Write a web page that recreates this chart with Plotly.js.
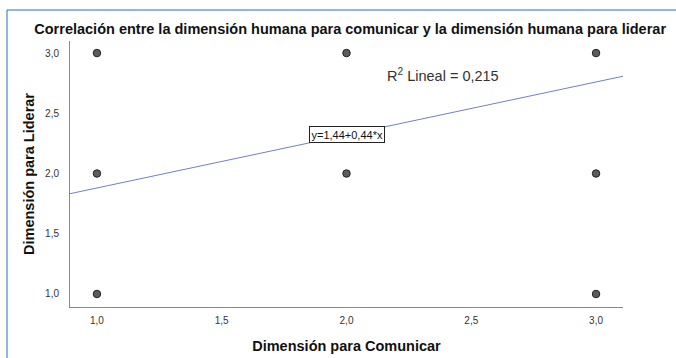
<!DOCTYPE html>
<html><head><meta charset="utf-8">
<script src="https://cdn.plot.ly/plotly-3.0.1.min.js"></script>
<style>html,body{margin:0;padding:0;background:#fff;}#c{width:676px;height:358px;}</style>
</head><body><div id="c"></div>
<script>
const comunicar = [1, 1, 1, 2, 2, 3, 3, 3];
const liderar   = [3, 2, 1, 3, 2, 3, 2, 1];
const intercept = 1.44;
const slope = 0.44;
const r2Text = "R<sup>2</sup> Lineal = 0,215";
const eqText = "y=1,44+0,44*x";
const xRange = [0.892, 3.108];
const yRange = [0.892, 3.1];

const fitX = xRange.slice();
const fitY = fitX.map(v => intercept + slope * v);

const data = [
  {x: fitX, y: fitY, type: 'scatter', mode: 'lines',
   line: {color: '#6f80c8', width: 1}, hoverinfo: 'skip', cliponaxis: true},
  {x: comunicar, y: liderar, type: 'scatter', mode: 'markers',
   marker: {size: 7.5, color: '#5c5c5c', line: {color: '#222', width: 1}}}
];

const layout = {
  width: 676, height: 358,
  margin: {l: 70, r: 53, t: 41, b: 51},
  paper_bgcolor: '#fff', plot_bgcolor: '#fff',
  showlegend: false,
  separators: ',.',
  font: {family: 'Liberation Sans, Arial, sans-serif', color: '#333'},
  title: {text: 'Correlación entre la dimensión humana para comunicar y la dimensión humana para liderar',
          font: {size: 14.5, color: '#111', weight: 'bold'}, x: 0.518, xanchor: 'center', y: 0.92, yanchor: 'middle'},
  xaxis: {range: xRange, tickvals: [1, 1.5, 2, 2.5, 3], tickformat: '.1f',
          showgrid: false, zeroline: false, showline: true, linecolor: '#8a8a8a', linewidth: 1,
          ticks: 'outside', ticklen: 4, tickcolor: 'rgba(0,0,0,0)', tickfont: {size: 10, color: '#333'},
          title: {text: 'Dimensión para Comunicar', font: {size: 14.5, color: '#111', weight: 'bold'}, standoff: 15}},
  yaxis: {range: yRange, tickvals: [1, 1.5, 2, 2.5, 3], tickformat: '.1f',
          showgrid: false, zeroline: false, showline: true, linecolor: '#8a8a8a', linewidth: 1,
          ticks: 'outside', ticklen: 8, tickcolor: 'rgba(0,0,0,0)', tickfont: {size: 10, color: '#333'},
          title: {text: 'Dimensión para Liderar', font: {size: 14.5, color: '#111', weight: 'bold'}, standoff: 7}},
  annotations: [
    {text: r2Text, xref: 'x', yref: 'y', x: 2.155, y: 2.82, xanchor: 'left', yanchor: 'middle',
     showarrow: false, font: {size: 14.5, color: '#333'}},
    {text: eqText, xref: 'x', yref: 'y', x: 2.002, y: 2.32, xanchor: 'center', yanchor: 'middle',
     showarrow: false, font: {size: 11, color: '#111'}, bgcolor: '#fff', bordercolor: '#222', borderwidth: 1, borderpad: 1.5}
  ],
  shapes: [
    {type: 'line', xref: 'paper', yref: 'paper', x0: -0.1139, x1: -0.1139, y0: -0.3, y1: 1.1165,
     line: {color: '#2a6ebd', width: 1}},
    {type: 'line', xref: 'paper', yref: 'paper', x0: -0.1139, x1: 1.2, y0: 1.1165, y1: 1.1165,
     line: {color: '#2a6ebd', width: 1}}
  ]
};

Plotly.newPlot('c', data, layout, {displayModeBar: false, staticPlot: true});
</script>
</body></html>
